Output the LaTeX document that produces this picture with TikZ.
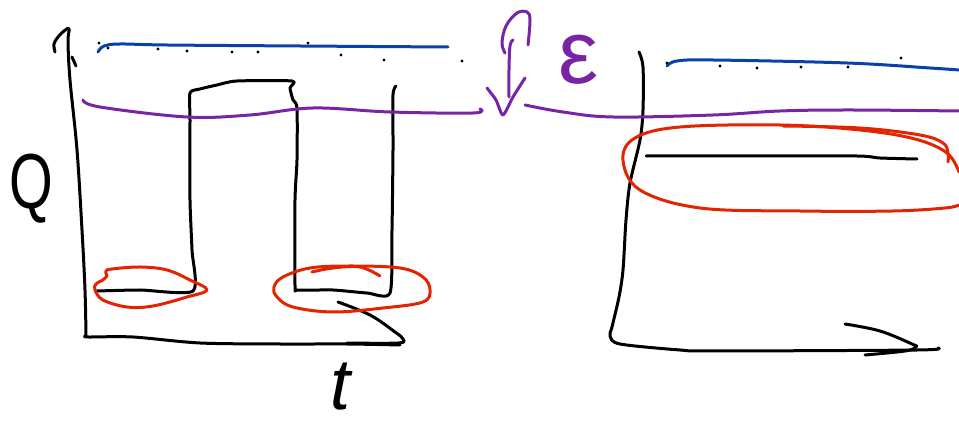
\documentclass[tikz,border=0pt]{standalone}
\usepackage{fontspec}
\newfontfamily\handfont{Liberation Sans}
\definecolor{inkblue}{RGB}{10,64,170}
\definecolor{inkpurple}{RGB}{120,36,165}
\definecolor{inkred}{RGB}{226,36,0}
\tikzset{
  ink/.style={line width=3pt, line cap=round, line join=round},
  blackink/.style={ink, black},
  blueink/.style={ink, inkblue},
  purpleink/.style={ink, inkpurple},
  redink/.style={ink, inkred},
  dot/.style={fill=black, inner sep=0pt, minimum size=3.4pt, circle},
  hand/.style={inner sep=0pt, anchor=base}
}
\begin{document}
\begin{tikzpicture}[x=1pt,y=-1pt]
\useasboundingbox (0,0) rectangle (959,427);

% ---------- left panel: Q against t ----------
% vertical axis with its hooked head
\draw[blackink] plot[smooth, tension=0.6] coordinates {(55,52) (54,44) (58,37) (64,31) (69,29) (68,42) (70,80) (77,150) (82,230) (85,290) (86,336)};
\draw[blackink] (72,57) -- (76,66);
% horizontal axis with its head
\draw[blackink] plot[smooth, tension=0.5] coordinates {(86,336) (88,337) (133,337) (200,343) (280,344) (347,344) (400,345)};
\draw[blackink] plot[smooth, tension=0.6] coordinates {(338,302) (370,315) (395,332) (403,339) (398,343) (347,343)};

% tanks
\draw[blackink] plot[smooth, tension=0.4] coordinates {(97,291) (140,290) (193,291) (192,250) (190,200) (190,120) (190,93) (200,89) (217,85) (237,81) (292,81) (290,88) (293,100) (297,108) (297,160) (295,200) (295,285) (298,290) (333,290) (367,293) (390,293) (392,230) (393,150) (393,95) (396,86)};

% energy levels (dotted blue, purple)
\draw[blueink] plot[smooth, tension=0.6] coordinates {(98,52) (104,46) (120,44) (167,45) (300,46) (448,47)};
\foreach \p/\q in {99/43,108/48,158/49,187/51,232/52,258/52,308/43,341/55,384/60,462/61}
  \node[dot] (d\p) at (\p,\q) {};
\draw[purpleink] plot[smooth, tension=0.6] coordinates {(83,100) (100,107) (187,117) (250,115) (313,108) (390,112) (473,113) (480,109)};

% red rings at the bottom of the tanks
\draw[redink] plot[smooth, tension=0.6] coordinates {(107,276) (106,271) (112,269) (140,267) (167,270) (190,280) (207,290) (187,297) (153,306) (127,307) (103,300) (95,290) (96,284) (103,280) (107,276)};
\draw[redink] plot[smooth cycle, tension=0.6] coordinates {(310,268) (350,266) (400,268) (423,277) (430,290) (423,302) (383,308) (333,312) (293,307) (277,297) (274,287) (283,277)};
\draw[redink] plot[smooth, tension=0.6] coordinates {(312,272) (333,268) (360,267) (380,276)};

% axis labels
\node[hand, font=\handfont\fontsize{78}{78}\selectfont, xscale=0.72] (qlabel) at (31,209) {Q};
\node[hand, font=\handfont\itshape\fontsize{72}{72}\selectfont] (tlabel) at (340,410) {t};

% ---------- middle: arrow and epsilon ----------
\draw[purpleink] plot[smooth, tension=0.6] coordinates {(528,45) (530,20) (527,12) (517,13) (506,26) (502,43) (505,53)};
\draw[purpleink] plot[smooth, tension=0.6] coordinates {(513,40) (510,46) (509,70) (509,97)};
\draw[purpleink] plot[smooth, tension=0.4] coordinates {(487,88) (496,100) (503,115) (513,97) (525,78)};
\node[hand, text=inkpurple, font=\handfont\fontsize{90}{90}\selectfont] (elabel) at (579,84) {ε};

% ---------- right panel ----------
\draw[blackink] plot[smooth, tension=0.5] coordinates {(639,52) (643,67) (643,110) (640,140) (630,183) (626,220) (623,270) (619,297) (612,327) (610,336) (620,344) (680,350) (713,351) (917,350) (938,348)};
\draw[blackink] plot[smooth, tension=0.6] coordinates {(845,324) (880,331) (912,344) (916,347) (905,351) (865,355)};

\draw[blueink] plot[smooth, tension=0.6] coordinates {(667,66) (677,61) (713,60) (847,63) (930,68) (959,70)};
\foreach \p/\q in {667/63,720/66,757/68,801/67,848/67,901/58}
  \node[dot] (r\p) at (\p,\q) {};
\draw[purpleink] plot[smooth, tension=0.6] coordinates {(525,105) (563,112) (613,117) (713,115) (780,111) (850,110) (959,111)};

\draw[blackink] plot[smooth, tension=0.5] coordinates {(646,156) (760,156) (857,156) (880,158) (917,159)};

\draw[redink] plot[smooth, tension=0.6] coordinates {(959,172) (947,153) (915,139) (860,130) (780,125) (680,127) (635,138) (623,160) (640,190) (700,208) (800,211) (893,211) (945,208) (959,205)};
\draw[redink] plot[smooth, tension=0.6] coordinates {(783,126) (860,128) (920,135) (943,143) (948,153) (948,162)};
\end{tikzpicture}
\end{document}
